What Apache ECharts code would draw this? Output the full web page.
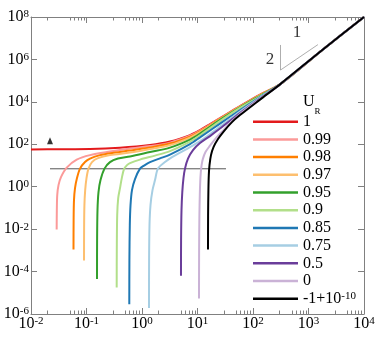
<!DOCTYPE html>
<html>
<head>
<meta charset="utf-8">
<script src="https://cdn.jsdelivr.net/npm/echarts@6/dist/echarts.min.js"></script>
<style>
  html, body { margin: 0; padding: 0; background: #fff; }
  #chart { width: 380px; height: 338px; }
</style>
</head>
<body>
<div id="chart"></div>
<script>
// 图例名称 (U_R)
const urNames = ['1', '0.99', '0.98', '0.97', '0.95', '0.9', '0.85', '0.75', '0.5', '0', '-1+1e-10'];
const urColors = ['#e31a1c', '#fb9a99', '#ff7f00', '#fdbf6f', '#33a02c', '#b2df8a',
                  '#1f78b4', '#a6cee3', '#6a3d9a', '#cab2d6', '#000000'];

// 每条曲线 [x, y]
const ur_1 = [[0.01,57.4],[0.0333,58.1],[0.1156,59.4],[0.4015,68.4],[1.393,91.7],[3.195,134],[7.33,272],
  [11.09,467],[16.8,897],[25.4,1720],[58.3,6340],[133.7,22100],[306.5,66900],[1750,2.72e6],[1e4,1e8]];
const ur_099 = [[0.0290,0.00968],[0.0292,0.0787],[0.0297,0.402],[0.0313,1.19],[0.0347,2.84],[0.0440,7.96],
  [0.0666,19.0],[0.1156,30.9],[0.265,45.3],[0.608,62.7],[1.393,82.3],[3.195,120],[7.33,252],[11.09,438],
  [25.4,1650],[58.3,6140],[133.7,21600],[306.5,66900],[1750,2.72e6],[1e4,1e8]];
const ur_098 = [[0.0583,0.0011],[0.0586,0.0266],[0.0595,0.233],[0.0621,0.859],[0.0674,2.55],[0.0764,7.14],
  [0.0940,14.5],[0.1156,21.2],[0.175,30.9],[0.326,40.6],[0.608,50.4],[1.393,69.9],[3.195,108],[7.33,231],
  [11.09,406],[25.4,1580],[58.3,5940],[133.7,20900],[306.5,66900],[1750,2.72e6],[1e4,1e8]];
const ur_097 = [[0.0902,0.000334],[0.0905,0.00897],[0.0917,0.1355],[0.0947,0.691],[0.1,2.55],[0.1086,7.14],
  [0.1257,14.5],[0.161,22.3],[0.265,30.9],[0.608,40.6],[1.393,59.4],[3.195,91.7],[7.33,207],[11.09,376],
  [25.4,1510],[58.3,5750],[133.7,20300],[306.5,66900],[1750,2.72e6],[1e4,1e8]];
const ur_095 = [[0.1546,4.52e-5],[0.1552,0.00303],[0.1578,0.0787],[0.1645,0.556],[0.1788,2.05],[0.211,7.14],
  [0.265,14.5],[0.3694,21.2],[0.608,26.3],[1.393,42.9],[3.195,69.9],[7.33,167],[11.09,320],[25.4,1420],
  [58.3,5500],[133.7,19400],[306.5,66900],[1750,2.72e6],[1e4,1e8]];
const ur_09 = [[0.350,1.78e-5],[0.3515,0.00102],[0.3574,0.0457],[0.3726,0.29],[0.4015,0.859],[0.4325,2.55],
  [0.474,6.76],[0.537,10.4],[0.608,13.0],[0.920,19.0],[1.715,29.3],[3.195,47.8],[7.33,134],[11.09,266],
  [25.4,1240],[58.3,5210],[133.7,18400],[306.5,66900],[1750,2.72e6],[1e4,1e8]];
const ur_085 = [[0.590,2.9e-6],[0.593,0.000345],[0.603,0.01544],[0.621,0.1355],[0.660,0.691],[0.748,2.28],
  [0.920,7.14],[1.087,9.89],[1.393,14.5],[2.11,21.6],[3.195,32.7],[7.33,102],[11.09,212],[25.4,947],
  [58.3,4100],[133.7,16800],[306.5,66900],[1750,2.72e6],[1e4,1e8]];
const ur_075 = [[1.337,1.94e-6],[1.342,0.000345],[1.365,0.01544],[1.423,0.1355],[1.546,0.691],[1.715,2.05],
  [1.942,7.14],[2.597,14.5],[3.47,24.9],[4.84,40.6],[7.33,73.8],[11.09,142],[18.25,356],[25.4,684],
  [58.3,3490],[133.7,15900],[306.5,66900],[1750,2.72e6],[1e4,1e8]];
const ur_05 = [[5.04,6.27e-5],[5.06,0.00303],[5.15,0.0787],[5.32,0.556],[5.59,2.55],[5.95,7.14],[6.74,21.2],
  [8.30,53.3],[11.09,114],[16.8,244],[25.4,550],[58.3,2960],[133.7,14300],[306.5,66900],[1750,2.72e6],[1e4,1e8]];
const ur_0 = [[10.64,5.38e-6],[10.69,0.00102],[10.82,0.0457],[11.0,0.402],[11.19,1.65],[11.47,4.88],[11.86,10.4],
  [12.46,20.0],[13.93,42.9],[16.8,86.9],[21.5,196],[28.8,443],[38.5,1000],[58.3,2660],[133.7,13600],
  [306.5,66900],[1750,2.72e6],[1e4,1e8]];
const ur_m1 = [[15.46,0.0011],[15.52,0.0457],[15.72,0.691],[15.98,3.53],[16.45,10.4],[17.5,30.9],[19.43,73.8],
  [23.4,176],[30.0,419],[41.8,1110],[58.3,2380],[133.7,12800],[306.5,66900],[1750,2.72e6],[1e4,1e8]];
const urCurves = [ur_1, ur_099, ur_098, ur_097, ur_095, ur_09, ur_085, ur_075, ur_05, ur_0, ur_m1];

// 水平参考线, 三角标记, 斜率三角形
const hLine = [[0.022, 7.0], [32.6, 7.0]];
const markerPt = [[0.022, 147]];
const slopeTri = [[313, 4.8e6], [313, 3.16e5], [1480, 5.0e6]];
const slopeLabels = [[202, 9.4e5, '2'], [621, 1.76e7, '1']];

// 刻度
const xMajor = [1e-2, 1e-1, 1, 10, 100, 1000, 1e4];
const xMinor = [0.02, 0.05, 0.06, 0.07, 0.08, 0.09,
                0.3, 0.5, 0.6, 0.7, 0.8, 0.9,
                2, 5, 6, 7, 8, 9,
                30, 50, 60, 70, 80, 90,
                300, 500, 600, 700, 800, 900,
                3000, 5000, 6000, 7000, 8000, 9000];
const yMajor = [1e-6, 1e-4, 1e-2, 1, 100, 1e4, 1e6, 1e8];

const FONT = 'Liberation Serif';
const AXIS_GRAY = '#808080';

function powLabel(v) {
  let e = Math.round(Math.log10(v));
  return '{b|10}{s|' + e + '}';
}
const powRich = {
  b: { fontSize: 16, fontFamily: FONT, color: '#000', lineHeight: 16, padding: [3, 0, 0, 0], verticalAlign: 'bottom' },
  s: { fontSize: 11, fontFamily: FONT, color: '#000', lineHeight: 11, verticalAlign: 'top' }
};

function xAxisOf(grid, pos, major) {
  return {
    gridIndex: grid, type: 'log', logBase: 10, min: 0.01, max: 1e4, position: pos,
    axisLine: { show: major, onZero: false, lineStyle: { color: AXIS_GRAY, width: 1 } },
    axisTick: { show: true, inside: true, length: major ? 6 : 3.5,
                customValues: major ? xMajor : xMinor, lineStyle: { color: AXIS_GRAY, width: 1 } },
    axisLabel: (major && pos === 'bottom') ?
      { show: true, customValues: xMajor, margin: 2, formatter: powLabel, rich: powRich } : { show: false },
    splitLine: { show: false }
  };
}
function yAxisOf(grid, pos, show) {
  return {
    gridIndex: grid, type: 'log', logBase: 10, min: 1e-6, max: 1e8, position: pos, show: show,
    axisLine: { show: true, onZero: false, lineStyle: { color: AXIS_GRAY, width: 1 } },
    axisTick: { show: true, inside: true, length: 6, customValues: yMajor, lineStyle: { color: AXIS_GRAY, width: 1 } },
    axisLabel: pos === 'left' ?
      { show: true, customValues: yMajor, margin: 2, formatter: powLabel, rich: powRich } : { show: false },
    splitLine: { show: false }
  };
}

let series = urNames.map(function (name, i) {
  return {
    name: name, type: 'line', xAxisIndex: 0, yAxisIndex: 0,
    data: urCurves[i], symbol: 'none', showSymbol: false,
    smooth: 0.3,
    lineStyle: { width: 2, color: urColors[i] }, itemStyle: { color: urColors[i] },
    z: 3 + i, silent: true
  };
});
series.push({
  name: 'ref', type: 'line', xAxisIndex: 0, yAxisIndex: 0, data: hLine, symbol: 'none',
  lineStyle: { width: 1, color: '#555' }, z: 1, silent: true
});
series.push({
  name: 'slope', type: 'line', xAxisIndex: 0, yAxisIndex: 0, data: slopeTri, symbol: 'none',
  lineStyle: { width: 0.8, color: '#999' }, z: 1, silent: true
});
series.push({
  name: 'marker', type: 'scatter', xAxisIndex: 0, yAxisIndex: 0, data: markerPt,
  symbol: 'triangle', symbolSize: [6, 7], itemStyle: { color: '#000' }, silent: true
});
series.push({
  name: 'slopeText', type: 'scatter', xAxisIndex: 0, yAxisIndex: 0,
  data: slopeLabels, symbolSize: 0, silent: true,
  label: {
    show: true, position: 'inside', formatter: function (p) { return p.data[2]; },
    fontFamily: FONT, fontSize: 17, color: '#000'
  }
});

let chart = echarts.init(document.getElementById('chart'), null, { renderer: 'canvas' });
let option = {
  animation: false,
  backgroundColor: '#fff',
  title: {
    text: '{u|U}{r|R}', left: 303, top: 94, padding: 0,
    textStyle: {
      fontWeight: 'normal',
      rich: {
        u: { fontSize: 16, fontFamily: FONT, fontWeight: 'normal', color: '#000', lineHeight: 16, verticalAlign: 'top' },
        r: { fontSize: 9, fontFamily: FONT, fontWeight: 'normal', color: '#000', lineHeight: 9, padding: [13, 0, 0, 0], verticalAlign: 'top' }
      }
    }
  },
  grid: [
    { left: 31, right: 16, top: 17, bottom: 24 },
    { left: 31, right: 16, top: 17, bottom: 24 }
  ],
  xAxis: [xAxisOf(0, 'bottom', true), xAxisOf(0, 'top', true), xAxisOf(1, 'bottom', false), xAxisOf(1, 'top', false)],
  yAxis: [yAxisOf(0, 'left', true), yAxisOf(0, 'right', true), yAxisOf(1, 'left', false)],
  legend: {
    data: urNames.map(function (n, i) { return { name: n, icon: 'rect', itemStyle: { color: urColors[i] } }; }),
    orient: 'vertical', left: 253, top: 113.7, padding: 0,
    itemWidth: 45, itemHeight: 2.5, itemGap: 1.7, selectedMode: false,
    textStyle: {
      fontSize: 16, fontFamily: FONT, color: '#000', lineHeight: 16,
      rich: { s: { fontSize: 11, fontFamily: FONT, color: '#000', lineHeight: 11, verticalAlign: 'top' } }
    },
    formatter: function (name) {
      if (name === '-1+1e-10') return '-1+10{s|-10}';
      return name;
    }
  },
  series: series
};
chart.setOption(option);
</script>
</body>
</html>
